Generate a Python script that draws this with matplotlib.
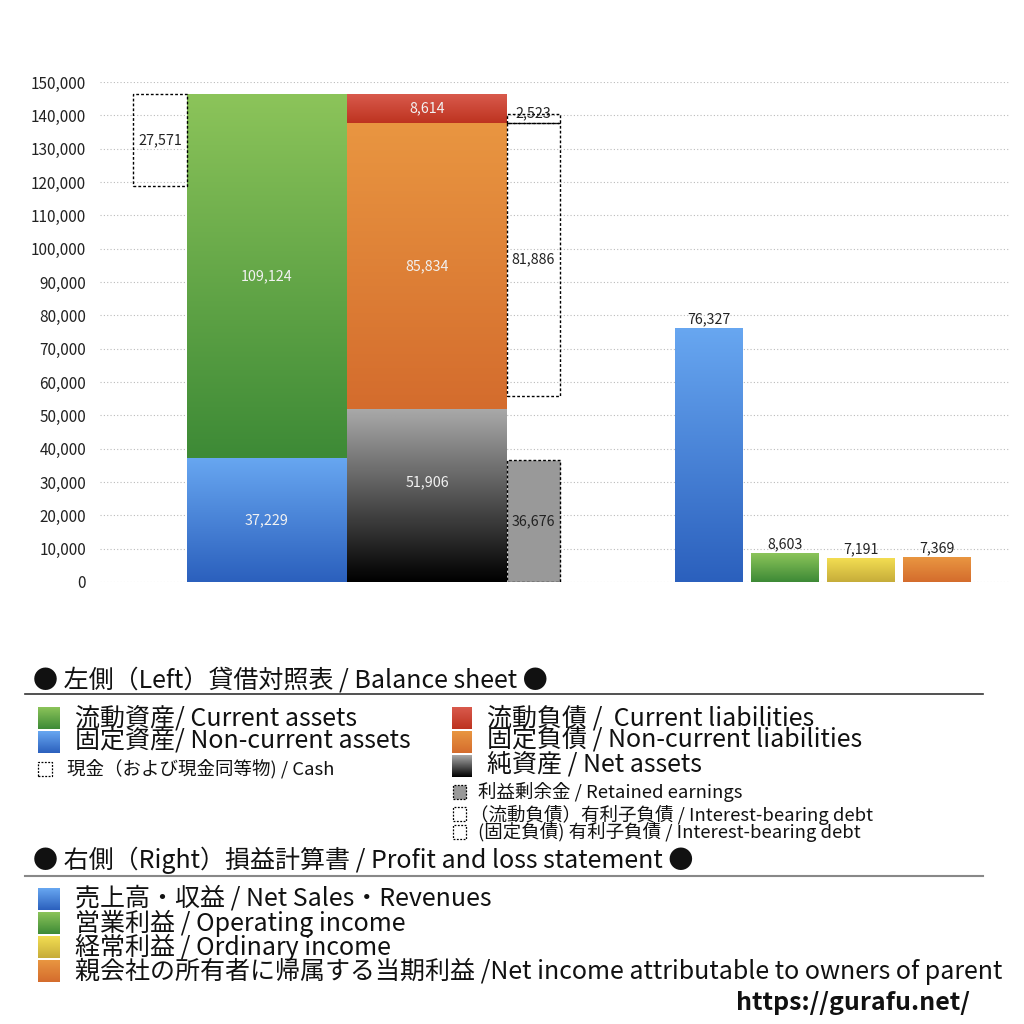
import numpy as np
import matplotlib
matplotlib.use("Agg")
import matplotlib.pyplot as plt
from matplotlib.colors import to_rgb
from matplotlib.patches import Rectangle
from matplotlib.lines import Line2D

plt.rcParams['font.family'] = ['Noto Sans CJK JP', 'DejaVu Sans']

# Balance sheet (left)
current_assets = 109124
noncurrent_assets = 37229
cash = 27571
current_liab = 8614
noncurrent_liab = 85834
net_assets = 51906
retained = 36676
debt_current = 2523
debt_noncurrent = 81886

# Profit and loss (right)
pl_values = [76327, 8603, 7191, 7369]

yticks = list(range(0, 150001, 10000))

# colours (top, bottom)
GREEN = ('#8cc45a', '#3d8a36')
BLUE = ('#68a7f1', '#2b60bd')
RED = ('#d95a4c', '#bd3320')
ORANGE = ('#e99641', '#d46c2d')
GRAY = ('#aaaaaa', '#000000')
YELLOW = ('#f3de52', '#c6ac3a')
pl_colors = [BLUE, GREEN, YELLOW, ORANGE]


def gradient(c_top, c_bot, n=256):
    t = np.linspace(0, 1, n)[:, None]
    a = np.array(to_rgb(c_bot))
    b = np.array(to_rgb(c_top))
    return (a + (b - a) * t)[:, None, :]


def grad_bar(ax, left, width, value, bottom, cols, **kw):
    bar = ax.bar(left, value, width, bottom=bottom, align='edge',
                 color=cols[1], linewidth=0, zorder=2, **kw)[0]
    im = ax.imshow(gradient(*cols), extent=[left, left + width, bottom, bottom + value],
                   aspect='auto', origin='lower', zorder=3, interpolation='bilinear')
    im.set_clip_path(bar)
    return bar


fig = plt.figure(figsize=(10.24, 10.24), dpi=100)
W = 1024.0


def fx(x):
    return x / W


def fy(y):
    return 1 - y / W


ax = fig.add_axes([fx(100), fy(582), fx(1010) - fx(100), (582 - 82) / W])

# balance sheet bars
cash_x, cash_w = 133, 54
as_x, bw = 187, 160
li_x = 347
dbt_x, dbt_w = 507, 53

total_assets = noncurrent_assets + current_assets
grad_bar(ax, as_x, bw, noncurrent_assets, 0, BLUE)
grad_bar(ax, as_x, bw, current_assets, noncurrent_assets, GREEN)
grad_bar(ax, li_x, bw, net_assets, 0, GRAY)
grad_bar(ax, li_x, bw, noncurrent_liab, net_assets, ORANGE)
grad_bar(ax, li_x, bw, current_liab, net_assets + noncurrent_liab, RED)

dash = (0, (2, 1.5))
ax.bar(cash_x, cash, cash_w, bottom=total_assets - cash, align='edge', fill=False,
       edgecolor='black', linestyle=dash, linewidth=1, zorder=4)
ax.bar(dbt_x, retained, dbt_w, align='edge', color='#999999',
       edgecolor='black', linestyle=dash, linewidth=1, zorder=4)
top_nc = net_assets + noncurrent_liab
ax.bar(dbt_x, debt_noncurrent, dbt_w, bottom=top_nc - debt_noncurrent, align='edge',
       fill=False, edgecolor='black', linestyle=dash, linewidth=1, zorder=4)
ax.bar(dbt_x, debt_current, dbt_w, bottom=top_nc, align='edge',
       fill=False, edgecolor='black', linestyle=dash, linewidth=1, zorder=4)

lab = dict(ha='center', va='center', fontsize=10.3, zorder=6)
wcol = '#f2f2f2'
ax.text(as_x + bw / 2, noncurrent_assets / 2, f'{noncurrent_assets:,}', color=wcol, **lab)
ax.text(as_x + bw / 2, noncurrent_assets + current_assets / 2, f'{current_assets:,}', color=wcol, **lab)
ax.text(li_x + bw / 2, net_assets / 2 + 4000, f'{net_assets:,}', color=wcol, **lab)
ax.text(li_x + bw / 2, net_assets + noncurrent_liab / 2, f'{noncurrent_liab:,}', color=wcol, **lab)
ax.text(li_x + bw / 2, top_nc + current_liab / 2, f'{current_liab:,}', color=wcol, **lab)
ax.text(cash_x + cash_w / 2, total_assets - cash / 2, f'{cash:,}', color='#222222', **lab)
ax.text(dbt_x + dbt_w / 2, retained / 2, f'{retained:,}', color='#222222', **lab)
ax.text(dbt_x + dbt_w / 2, top_nc - debt_noncurrent / 2, f'{debt_noncurrent:,}', color='#222222', **lab)
ax.text(dbt_x + dbt_w / 2, top_nc + debt_current + 300, f'{debt_current:,}', color='#222222', **lab)

# profit and loss bars
pl_x = [675, 751, 827, 903]
pl_w = 68
for x, v, c in zip(pl_x, pl_values, pl_colors):
    grad_bar(ax, x, pl_w, v, 0, c)
    ax.text(x + pl_w / 2, v + 500, f'{v:,}', ha='center', va='bottom', fontsize=10.2,
            color='#222222', zorder=6)

ax.set_xlim(100, 1010)
ax.set_ylim(0, 150000)
ax.set_yticks(yticks)
ax.set_yticklabels([f'{t:,}' for t in yticks], fontsize=11, color='#222222')
ax.set_xticks([])
ax.tick_params(axis='y', length=0, pad=10)
for s in ax.spines.values():
    s.set_visible(False)
ax.grid(axis='y', color='#bbbbbb', linestyle=(0, (1, 2)), linewidth=0.8, zorder=0)
ax.set_axisbelow(True)


# legend area (figure pixel coordinates)
def swatch(x, y, w, h, cols=None, dotted=False, face=None):
    if dotted:
        fig.add_artist(Rectangle((fx(x), fy(y + h)), w / W, h / W, transform=fig.transFigure,
                                 facecolor=face if face else 'none', edgecolor='black',
                                 linestyle=(0, (1.5, 1.2)), linewidth=0.9))
    else:
        a = fig.add_axes([fx(x), fy(y + h), w / W, h / W])
        a.imshow(gradient(*cols), aspect='auto', origin='lower', extent=[0, 1, 0, 1])
        a.axis('off')


def txt(x, y, s, size, **kw):
    fig.text(fx(x), fy(y), s, fontsize=size, va='center', ha='left', color='#111111', **kw)


BIG = 18
SMALL = 13.3

txt(33, 680, '● 左側（Left）貸借対照表 / Balance sheet ●', BIG)
fig.add_artist(Line2D([fx(25), fx(983)], [fy(694), fy(694)], color='#333333', linewidth=1.2))

swatch(38, 707, 22, 22, GREEN)
txt(75, 718, '流動資産/ Current assets', BIG)
swatch(38, 731, 22, 22, BLUE)
txt(75, 741, '固定資産/ Non-current assets', BIG)
swatch(38, 762, 14, 14, dotted=True)
txt(67, 769, '現金（および現金同等物) / Cash', SMALL)

swatch(452, 707, 20, 22, RED)
txt(487, 718, '流動負債 /  Current liabilities', BIG)
swatch(452, 731, 20, 22, ORANGE)
txt(487, 741, '固定負債 / Non-current liabilities', BIG)
swatch(452, 755, 20, 22, GRAY)
txt(487, 765, '純資産 / Net assets', BIG)
swatch(453, 785, 13, 14, dotted=True, face='#999999')
txt(478, 792, '利益剰余金 / Retained earnings', SMALL)
swatch(453, 807, 13, 14, dotted=True)
txt(470, 815, '（流動負債）有利子負債 / Interest-bearing debt', SMALL)
swatch(453, 825, 13, 14, dotted=True)
txt(478, 832, '(固定負債) 有利子負債 / Interest-bearing debt', SMALL)

txt(33, 860, '● 右側（Right）損益計算書 / Profit and loss statement ●', BIG)
fig.add_artist(Line2D([fx(25), fx(983)], [fy(876), fy(876)], color='#888888', linewidth=1.5))

pl_labels = ['売上高・収益 / Net Sales・Revenues',
             '営業利益 / Operating income',
             '経常利益 / Ordinary income',
             '親会社の所有者に帰属する当期利益 /Net income attributable to owners of parent']
for i, (s, c) in enumerate(zip(pl_labels, pl_colors)):
    y = 899 + 24 * i
    swatch(38, y - 11, 22, 22, c)
    txt(75, y, s, BIG)

fig.text(fx(970), fy(1003), 'https://gurafu.net/', fontsize=18, fontweight='bold',
         ha='right', va='center', color='#111111')

fig.savefig('out.png', dpi=100, facecolor='white')
